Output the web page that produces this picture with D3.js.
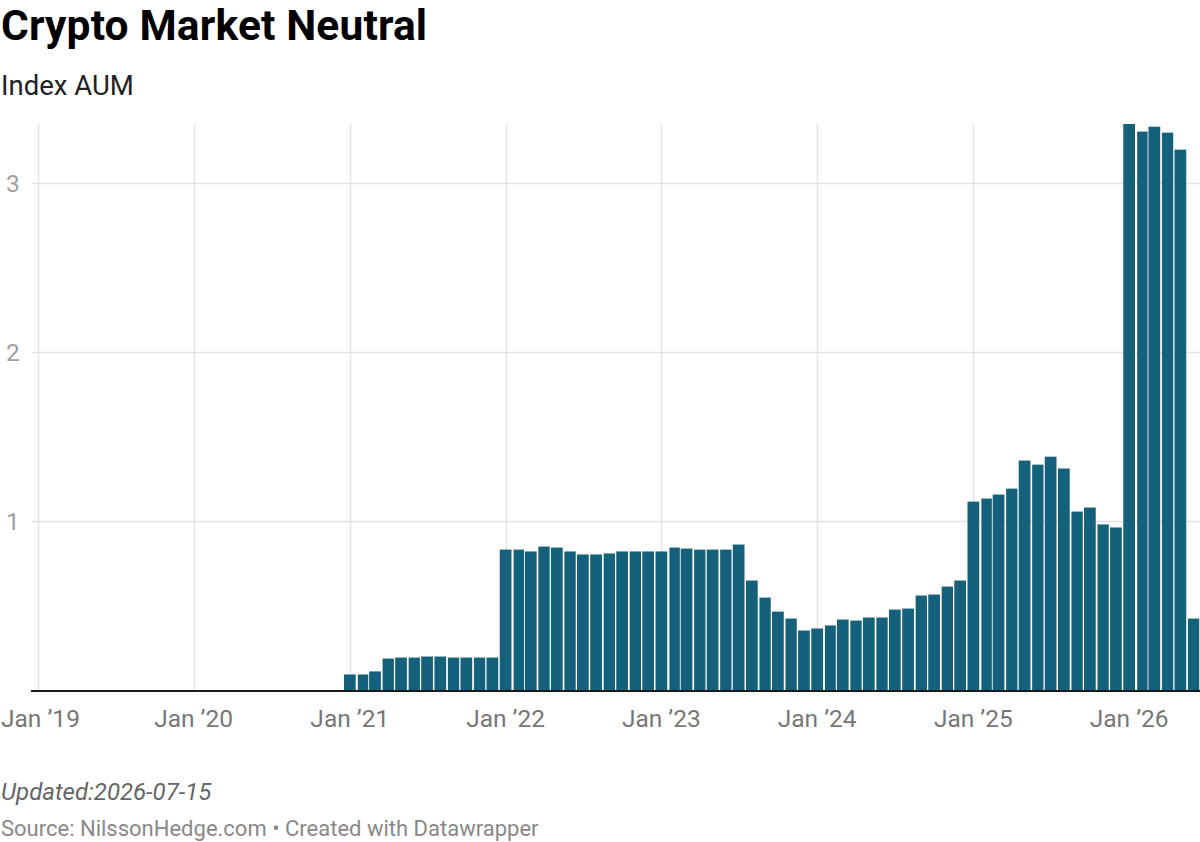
<!DOCTYPE html>
<html>
<head>
<meta charset="utf-8">
<script src="https://cdn.jsdelivr.net/npm/d3@7"></script>
<style>
  body { margin: 0; background: #fff; }
  svg { display: block; font-family: Roboto, "Noto Sans", sans-serif; }
</style>
</head>
<body>
<div id="chart"></div>
<script>
// monthly index AUM, Jan 2021 -> Jun 2026
const months = [
  "2021-01","2021-02","2021-03","2021-04","2021-05","2021-06","2021-07","2021-08","2021-09","2021-10","2021-11","2021-12",
  "2022-01","2022-02","2022-03","2022-04","2022-05","2022-06","2022-07","2022-08","2022-09","2022-10","2022-11","2022-12",
  "2023-01","2023-02","2023-03","2023-04","2023-05","2023-06","2023-07","2023-08","2023-09","2023-10","2023-11","2023-12",
  "2024-01","2024-02","2024-03","2024-04","2024-05","2024-06","2024-07","2024-08","2024-09","2024-10","2024-11","2024-12",
  "2025-01","2025-02","2025-03","2025-04","2025-05","2025-06","2025-07","2025-08","2025-09","2025-10","2025-11","2025-12",
  "2026-01","2026-02","2026-03","2026-04","2026-05","2026-06"
]
const aum = [
  0.092, 0.092, 0.11, 0.186, 0.192, 0.192, 0.198, 0.198, 0.192, 0.192, 0.192, 0.192,
  0.831, 0.831, 0.82, 0.849, 0.843, 0.82, 0.802, 0.802, 0.808, 0.82, 0.82, 0.82,
  0.82, 0.843, 0.837, 0.831, 0.831, 0.831, 0.861, 0.648, 0.547, 0.464, 0.423, 0.352,
  0.364, 0.382, 0.417, 0.411, 0.429, 0.429, 0.476, 0.482, 0.559, 0.565, 0.612, 0.648,
  1.115, 1.133, 1.157, 1.192, 1.358, 1.334, 1.381, 1.311, 1.056, 1.08, 0.98, 0.962,
  3.35, 3.305, 3.334, 3.299, 3.198, 0.423
]

// axis ticks
const xTicks = ["2019-01","2020-01","2021-01","2022-01","2023-01","2024-01","2025-01","2026-01"]
const xTickLabels = ["Jan ’19","Jan ’20","Jan ’21","Jan ’22","Jan ’23","Jan ’24","Jan ’25","Jan ’26"]
const yTicks = [1, 2, 3]

const width = 1200
const height = 842
const parse = d3.timeParse("%Y-%m")

const data = months.map((m, i) => ({date: parse(m), value: aum[i]}))

const x = d3.scaleTime()
  .domain([new Date(2018, 11, 16), new Date(2026, 5, 16)])
  .range([31, 1200])
const y = d3.scaleLinear()
  .domain([0, d3.max(aum)])
  .range([690, 124])

const svg = d3.select("#chart").append("svg")
  .attr("width", width)
  .attr("height", height)

// title + subtitle
svg.append("text")
  .attr("x", 1).attr("y", 39.5)
  .attr("font-size", 42.5).attr("font-weight", 700)
  .attr("letter-spacing", 0.15)
  .attr("fill", "#000")
  .text("Crypto Market Neutral")
svg.append("text")
  .attr("x", 1).attr("y", 95)
  .attr("font-size", 27.5)
  .attr("fill", "#222")
  .text("Index AUM")

// horizontal grid + y labels
const yg = svg.append("g").selectAll("g").data(yTicks).enter().append("g")
yg.append("line")
  .attr("x1", 32).attr("x2", 1200)
  .attr("y1", d => Math.round(y(d)) + 0.5).attr("y2", d => Math.round(y(d)) + 0.5)
  .attr("stroke", "#e3e3e3").attr("stroke-width", 1.5)
yg.append("text")
  .attr("x", 6).attr("y", d => y(d))
  .attr("dy", "0.35em")
  .attr("font-size", 24.5)
  .attr("fill", "#a0a0a0")
  .text(d => d)

// vertical grid + x labels
const xg = svg.append("g").selectAll("g").data(xTicks).enter().append("g")
xg.append("line")
  .attr("x1", d => Math.round(x(parse(d))) + 0.5).attr("x2", d => Math.round(x(parse(d))) + 0.5)
  .attr("y1", 124).attr("y2", 690)
  .attr("stroke", "#e3e3e3").attr("stroke-width", 1.5)
// first label is pushed in so it isn't clipped at the left edge
xg.append("text")
  .attr("x", (d, i) => i === 0 ? 1 : x(parse(d)))
  .attr("y", 727)
  .attr("text-anchor", (d, i) => i === 0 ? "start" : "middle")
  .attr("font-size", 24.5)
  .attr("fill", "#777")
  .text((d, i) => xTickLabels[i])

// bars
svg.append("g").selectAll("rect").data(data).enter().append("rect")
  .attr("x", d => {
    const w = x(d3.timeMonth.offset(d.date, 1)) - x(d.date) - 1.5
    return x(d.date) - w / 2
  })
  .attr("width", d => x(d3.timeMonth.offset(d.date, 1)) - x(d.date) - 1.5)
  .attr("y", d => y(d.value))
  .attr("height", d => y(0) - y(d.value))
  .attr("fill", "#15607a")

// baseline
svg.append("line")
  .attr("x1", 31).attr("x2", 1200)
  .attr("y1", 691).attr("y2", 691)
  .attr("stroke", "#1a1a1a").attr("stroke-width", 2)

// footer
svg.append("text")
  .attr("x", 1).attr("y", 800)
  .attr("font-size", 24).attr("font-style", "italic")
  .attr("fill", "#666")
  .text("Updated:2026-07-15")
svg.append("text")
  .attr("x", 1).attr("y", 836)
  .attr("font-size", 22)
  .attr("fill", "#888")
  .text("Source: NilssonHedge.com • Created with Datawrapper")
</script>
</body>
</html>
